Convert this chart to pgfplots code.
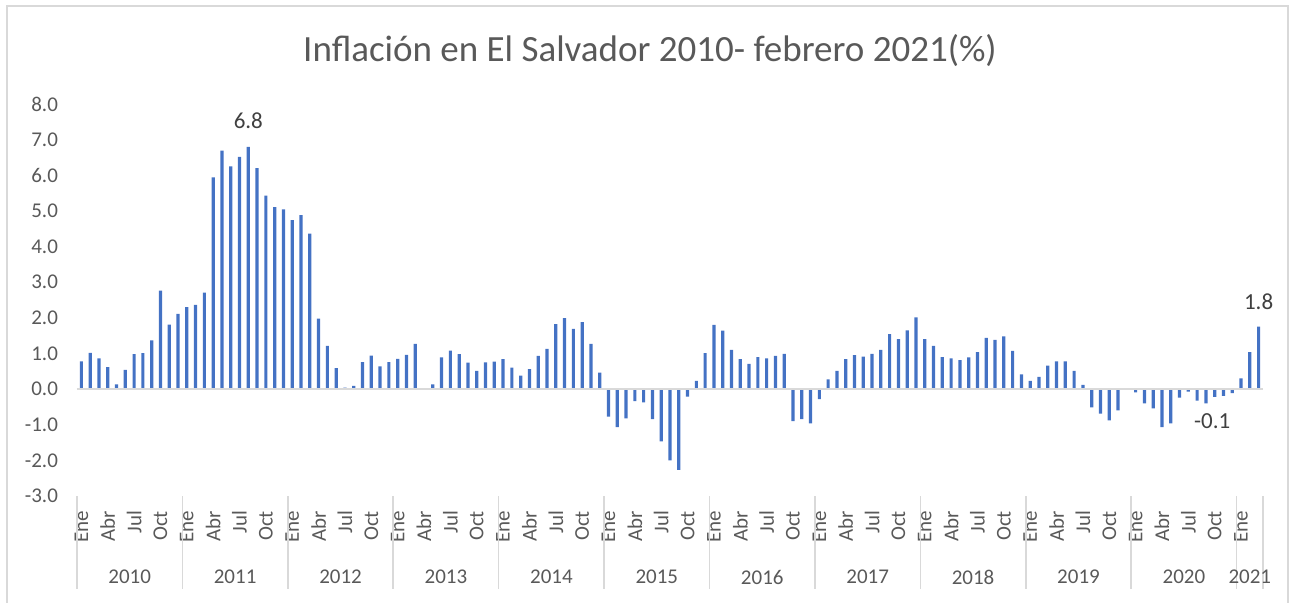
\documentclass[border=0pt]{standalone}
\usepackage{pgfplots}
\pgfplotsset{compat=1.18}
\usepackage{fontspec}
\setmainfont{Carlito}
\definecolor{barblue}{HTML}{4472C4}
\definecolor{txtgray}{HTML}{595959}
\definecolor{lblgray}{HTML}{404040}
\definecolor{linegray}{HTML}{D9D9D9}
\begin{document}
\begin{tikzpicture}
\useasboundingbox (0,0) rectangle (649pt,301pt);
\draw[color=linegray, line width=0.7pt] (3.5pt,-10pt) -- (3.5pt,298pt) -- (644pt,298pt) -- (644pt,-10pt);
\node[font=\fontsize{18.5}{22}\selectfont, text=txtgray] at (325pt,275.5pt) {Inflación en El Salvador 2010- febrero 2021(\%)};
\begin{axis}[
  at={(38.5pt,53pt)}, anchor=south west,
  scale only axis, width=593pt, height=196pt,
  xmin=-0.5, xmax=134.5, ymin=-3, ymax=8,
  clip=false,
  axis line style={draw=none},
  major tick length=0pt,
  ytick={-3,-2,-1,0,1,2,3,4,5,6,7,8},
  yticklabels={-3.0,-2.0,-1.0,0.0,1.0,2.0,3.0,4.0,5.0,6.0,7.0,8.0},
  yticklabel style={font=\fontsize{10.5}{12}\selectfont, text=txtgray},
  yticklabel shift=6pt,
  xtick={0,3,6,9,12,15,18,21,24,27,30,33,36,39,42,45,48,51,54,57,60,63,66,69,72,75,78,81,84,87,90,93,96,99,102,105,108,111,114,117,120,123,126,129,132},
  xticklabels={Ene,Abr,Jul,Oct,Ene,Abr,Jul,Oct,Ene,Abr,Jul,Oct,Ene,Abr,Jul,Oct,Ene,Abr,Jul,Oct,Ene,Abr,Jul,Oct,Ene,Abr,Jul,Oct,Ene,Abr,Jul,Oct,Ene,Abr,Jul,Oct,Ene,Abr,Jul,Oct,Ene,Abr,Jul,Oct,Ene},
  xticklabel style={rotate=90, anchor=east, font=\fontsize{10.5}{12}\selectfont, text=txtgray},
  xticklabel shift=4pt,
]
\addplot[ybar, bar width=1.6pt, fill=barblue, draw=none] coordinates {
(0,0.78) (1,1.02) (2,0.86) (3,0.62) (4,0.13) (5,0.54) (6,0.98) (7,1.01) (8,1.37) (9,2.76) (10,1.81) (11,2.11)
(12,2.30) (13,2.36) (14,2.71) (15,5.94) (16,6.69) (17,6.25) (18,6.52) (19,6.80) (20,6.20) (21,5.43) (22,5.11) (23,5.04)
(24,4.74) (25,4.88) (26,4.36) (27,1.98) (28,1.21) (29,0.59) (30,0.04) (31,0.09) (32,0.76) (33,0.94) (34,0.64) (35,0.76)
(36,0.85) (37,0.96) (38,1.27) (39,0.00) (40,0.13) (41,0.89) (42,1.08) (43,0.98) (44,0.74) (45,0.51) (46,0.75) (47,0.77)
(48,0.84) (49,0.60) (50,0.38) (51,0.56) (52,0.93) (53,1.13) (54,1.82) (55,1.99) (56,1.69) (57,1.88) (58,1.27) (59,0.46)
(60,-0.77) (61,-1.07) (62,-0.82) (63,-0.34) (64,-0.37) (65,-0.84) (66,-1.47) (67,-2.00) (68,-2.27) (69,-0.21) (70,0.23) (71,1.01)
(72,1.80) (73,1.64) (74,1.10) (75,0.84) (76,0.71) (77,0.90) (78,0.86) (79,0.93) (80,0.99) (81,-0.90) (82,-0.84) (83,-0.96)
(84,-0.28) (85,0.27) (86,0.51) (87,0.84) (88,0.95) (89,0.91) (90,0.99) (91,1.10) (92,1.54) (93,1.40) (94,1.65) (95,2.01)
(96,1.40) (97,1.21) (98,0.90) (99,0.86) (100,0.81) (101,0.89) (102,1.04) (103,1.44) (104,1.38) (105,1.48) (106,1.07) (107,0.41)
(108,0.23) (109,0.34) (110,0.66) (111,0.78) (112,0.78) (113,0.51) (114,0.12) (115,-0.51) (116,-0.69) (117,-0.88) (118,-0.60) (119,0.00)
(120,-0.09) (121,-0.40) (122,-0.54) (123,-1.07) (124,-0.96) (125,-0.24) (126,-0.07) (127,-0.32) (128,-0.40) (129,-0.22) (130,-0.19) (131,-0.11)
(132,0.30) (133,1.04) (134,1.75)
};
\draw[color=linegray, line width=1pt] (axis cs:-0.5,0) -- (axis cs:134.5,0);
% year separators
\tikzset{sep/.style={color=linegray, line width=0.8pt}}
\draw[sep] (axis cs:-0.5,-3) -- ++(0pt,-46.5pt);
\draw[sep] (axis cs:11.5,-3) -- ++(0pt,-46.5pt);
\draw[sep] (axis cs:23.5,-3) -- ++(0pt,-46.5pt);
\draw[sep] (axis cs:35.5,-3) -- ++(0pt,-46.5pt);
\draw[sep] (axis cs:47.5,-3) -- ++(0pt,-46.5pt);
\draw[sep] (axis cs:59.5,-3) -- ++(0pt,-46.5pt);
\draw[sep] (axis cs:71.5,-3) -- ++(0pt,-46.5pt);
\draw[sep] (axis cs:83.5,-3) -- ++(0pt,-46.5pt);
\draw[sep] (axis cs:95.5,-3) -- ++(0pt,-46.5pt);
\draw[sep] (axis cs:107.5,-3) -- ++(0pt,-46.5pt);
\draw[sep] (axis cs:119.5,-3) -- ++(0pt,-46.5pt);
\draw[sep] (axis cs:131.5,-3) -- ++(0pt,-46.5pt);
\draw[sep] (axis cs:134.5,-3) -- ++(0pt,-46.5pt);
% year labels
\tikzset{yr/.style={font=\fontsize{10.5}{12}\selectfont, text=txtgray, yshift=-40.5pt}}
\node[yr] at (axis cs:5.5,-3) {2010};
\node[yr] at (axis cs:17.5,-3) {2011};
\node[yr] at (axis cs:29.5,-3) {2012};
\node[yr] at (axis cs:41.5,-3) {2013};
\node[yr] at (axis cs:53.5,-3) {2014};
\node[yr] at (axis cs:65.5,-3) {2015};
\node[yr] at (axis cs:77.5,-3) {2016};
\node[yr] at (axis cs:89.5,-3) {2017};
\node[yr] at (axis cs:101.5,-3) {2018};
\node[yr] at (axis cs:113.5,-3) {2019};
\node[yr] at (axis cs:125.5,-3) {2020};
\node[yr] at (axis cs:133,-3) {2021};
% data labels
\tikzset{dl/.style={font=\fontsize{11.5}{13}\selectfont, text=lblgray}}
\node[dl, yshift=13pt] at (axis cs:19,6.80) {6.8};
\node[dl, yshift=12.5pt] at (axis cs:134,1.75) {1.8};
\node[dl, xshift=-10pt, yshift=-14pt] at (axis cs:131,-0.11) {-0.1};
\end{axis}
\end{tikzpicture}
\end{document}
